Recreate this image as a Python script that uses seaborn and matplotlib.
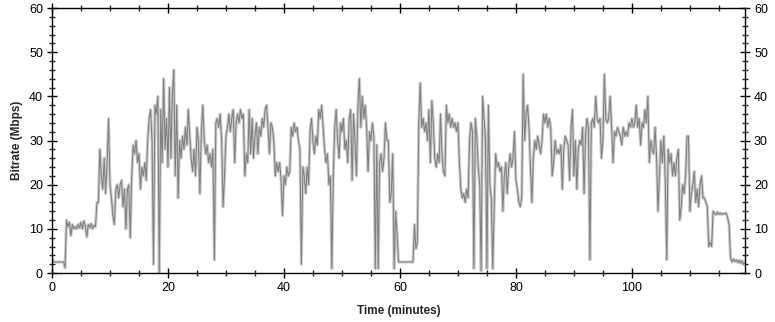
import numpy as np
import pandas as pd
import matplotlib
matplotlib.use("Agg")
import matplotlib.pyplot as plt
import seaborn as sns
from matplotlib.ticker import MultipleLocator

# bitrate samples every 15 seconds (0.25 min)
step_minutes = 0.25
bitrate = [
    3.5, 2.5, 2.5, 2.5, 2.5, 2.5, 2.5, 2.5,          # 0-2
    2.5, 1.2, 12, 10.5, 11.5, 8.5, 11, 10,           # 2-4
    10.5, 10, 11, 10.2, 11.5, 10, 11.8, 10.5,        # 4-6
    8.2, 11, 10.2, 11.2, 10, 10.8, 10.5, 16,         # 6-8
    16, 28, 22, 19, 26, 18, 25, 35,                  # 8-10
    20, 17, 13, 11, 19, 20, 17, 20,                  # 10-12
    21, 15, 19, 10, 19, 20, 8, 22,                   # 12-14
    29, 27, 30, 25, 27, 19, 24, 22,                  # 14-16
    25, 21, 30, 35, 37, 30, 2, 38,                   # 16-18
    36, 40, 0, 37, 25, 44, 28, 35,                   # 18-20
    24, 42, 26, 40, 46, 22, 38, 17,                  # 20-22
    30, 26, 31, 28, 33, 29, 37, 31,                  # 22-24
    26, 23, 28, 22, 33, 30, 18, 32,                  # 24-26
    38, 30, 27, 29, 25, 27, 24, 28,                  # 26-28
    3, 34, 35, 33, 36, 30, 15, 22,                   # 28-30
    31, 33, 36, 32, 35, 37, 25, 34,                  # 30-32
    36, 34, 37, 35, 36, 22, 27, 25,                  # 32-34
    37, 27, 35, 26, 31, 34, 27, 33,                  # 34-36
    31, 35, 33, 37, 38, 33, 27, 34,                  # 36-38
    33, 30, 22, 25, 23, 25, 21, 13,                  # 38-40
    22, 20, 24, 22, 23, 33, 31, 34,                  # 40-42
    32, 33, 30, 28, 2, 24, 22, 18,                   # 42-44
    24, 20, 32, 35, 30, 27, 31, 29,                  # 44-46
    37, 35, 38, 33, 28, 25, 27, 20,                  # 46-48
    22, 1, 22, 33, 37, 30, 26, 34,                   # 48-50
    32, 35, 28, 30, 25, 35, 37, 21,                  # 50-52
    36, 30, 22, 38, 44, 33, 40, 35,                  # 52-54
    38, 33, 23, 32, 30, 34, 31, 1,                   # 54-56
    29, 1, 25, 27, 23, 26, 34, 30,                   # 56-58
    30, 16, 18, 27, 1, 14, 9, 2.5,                   # 58-60
    2.5, 2.5, 2.5, 2.5, 2.5, 2.5, 2.5, 2.5,          # 60-62
    2.5, 2.5, 11, 5.5, 7, 34, 43, 33,                # 62-64
    35, 32, 34, 30, 37, 25, 39, 34,                  # 64-66
    26, 24, 27, 25, 36, 27, 23, 22,                  # 66-68
    38, 34, 36, 33, 35, 33, 34, 32,                  # 68-70
    34, 25, 19, 17, 18, 16, 19, 17,                  # 70-72
    30, 34, 32, 1, 35, 31, 24, 20,                   # 72-74
    0.5, 40, 35, 30, 1, 38, 20, 17,                  # 74-76
    1, 15, 27, 24, 25, 23, 24, 14,                   # 76-78
    22, 25, 18, 24, 27, 24, 26, 32,                  # 78-80
    21, 19, 16, 15, 17, 45, 30, 36,                  # 80-82
    38, 33, 24, 16, 26, 30, 28, 31,                  # 82-84
    29, 27, 30, 36, 34, 36, 33, 35,                  # 84-86
    33, 22, 25, 30, 27, 28, 27, 29,                  # 86-88
    19, 28, 31, 30, 29, 21, 33, 37,                  # 88-90
    22, 30, 19, 28, 30, 29, 33, 18,                  # 90-92
    31, 35, 33, 3, 34, 35, 33, 40,                   # 92-94
    35, 34, 35, 26, 30, 45, 35, 34,                  # 94-96
    35, 40, 33, 25, 32, 31, 33, 32,                  # 96-98
    31, 29, 33, 31, 32, 31, 34, 33,                  # 98-100
    35, 33, 34, 38, 33, 35, 29, 34,                  # 100-102
    33, 37, 34, 40, 25, 30, 28, 27,                  # 102-104
    33, 26, 14, 22, 30, 25, 31, 21,                  # 104-106
    3, 28, 25, 27, 22, 25, 22, 26,                   # 106-108
    28, 12, 15, 20, 18, 22, 31, 31,                  # 108-110
    14, 18, 20, 23, 16, 19, 15, 20,                  # 110-112
    22, 17, 17, 16, 15, 6, 7, 6,                     # 112-114
    14, 13.5, 13.2, 13.8, 13.3, 13.6, 13.2, 13.5,    # 114-116
    13.4, 13.6, 12.5, 11, 3.5, 2.5, 3.2, 2.6,        # 116-118
    3, 2.4, 2.9, 2.2, 2.8, 2.0, 2.3, 1.8,            # 118-120
]
minutes = np.arange(len(bitrate)) * step_minutes

df = pd.DataFrame({"Time": minutes, "Bitrate": bitrate})

sns.set_style("ticks")
plt.rcParams["font.family"] = ["Liberation Sans", "DejaVu Sans"]

fig = plt.figure(figsize=(7.75, 3.22), dpi=100)
ax = fig.add_axes([0.0671, 0.152, 0.8942, 0.823])

# light halo underneath, darker trace on top
sns.lineplot(data=df, x="Time", y="Bitrate", ax=ax, color="#cccccc",
             linewidth=2.2, estimator=None)
sns.lineplot(data=df, x="Time", y="Bitrate", ax=ax, color="#808080",
             linewidth=0.75, estimator=None)

ax.set_xlim(0, 119.5)
ax.set_ylim(0, 60)
ax.xaxis.set_major_locator(MultipleLocator(20))
ax.xaxis.set_minor_locator(MultipleLocator(5))
ax.yaxis.set_major_locator(MultipleLocator(10))
ax.yaxis.set_minor_locator(MultipleLocator(2))

ax.tick_params(axis="both", which="major", direction="inout", length=7,
               width=1, labelsize=9, colors="black", pad=3)
ax.tick_params(axis="both", which="minor", direction="inout", length=4,
               width=1)
ax.tick_params(axis="y", which="both", left=True, right=True,
               labelleft=True, labelright=True)
ax.tick_params(axis="x", which="both", top=True, bottom=True)

for s in ax.spines.values():
    s.set_visible(True)
    s.set_linewidth(1)
    s.set_color("black")

ax.set_xlabel("Time (minutes)", fontsize=8.5, fontweight="bold", labelpad=8)
ax.set_ylabel("Bitrate (Mbps)", fontsize=8.5, fontweight="bold", labelpad=4)

fig.savefig("out.png", dpi=100)
